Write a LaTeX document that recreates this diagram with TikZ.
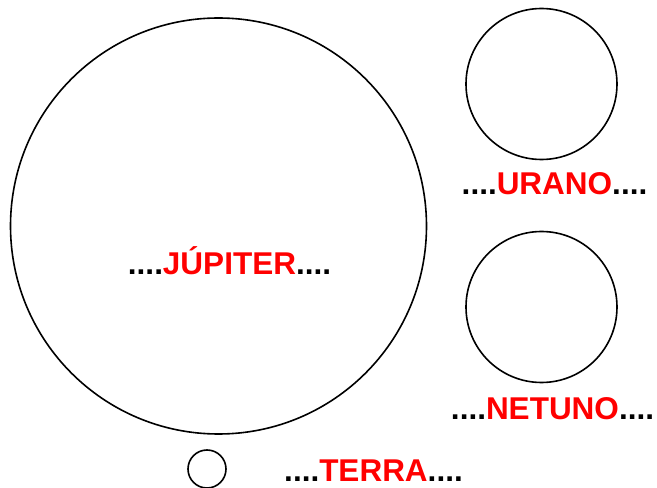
\documentclass[tikz,border=0pt]{standalone}
\usepackage{fontspec}
\setmainfont{Liberation Sans}
\definecolor{pred}{RGB}{255,0,0}
\begin{document}
\begin{tikzpicture}[x=1pt,y=1pt,
  planet/.style={draw=black,line width=1.6pt,circle,inner sep=0pt},
  lbl/.style={anchor=base,inner sep=0pt,font=\bfseries\fontsize{31.5}{36}\selectfont}]
\useasboundingbox (0,0) rectangle (657,488);
\node[planet,minimum size=416pt] (jup) at (218.5,262) {};
\node[planet,minimum size=151pt] (ura) at (541.5,404) {};
\node[planet,minimum size=151pt] (net) at (541.5,181) {};
\node[planet,minimum size=38pt] (ter) at (207,19) {};
\node[lbl] (tjup) at (229.5,213) {....\textcolor{pred}{JÚPITER}....};
\node[lbl] (tura) at (554.5,293) {....\textcolor{pred}{URANO}....};
\node[lbl] (tnet) at (552.5,68) {....\textcolor{pred}{NETUNO}....};
\node[lbl] (tter) at (373.5,6.5) {....\textcolor{pred}{TERRA}....};
\end{tikzpicture}
\end{document}
